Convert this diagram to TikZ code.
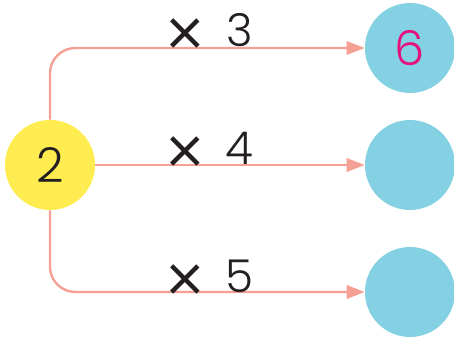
\documentclass[tikz,border=0pt]{standalone}
\usepackage{fontspec}
\setmainfont{Poppins}[UprightFont=* Light]
\usepackage{graphicx}
\usetikzlibrary{arrows.meta}
\definecolor{sunyellow}{HTML}{FFEC50}
\definecolor{skyblue}{HTML}{84D1E3}
\definecolor{salmon}{HTML}{F5A094}
\definecolor{hotpink}{HTML}{E5127E}
\definecolor{inkgray}{HTML}{231F20}
\newcommand{\bigtimes}{\raisebox{-9.5pt}{\scalebox{1.55}{×}}}

\begin{document}
\begin{tikzpicture}[
    x=0.75pt, y=-0.75pt,
    ball/.style={circle, inner sep=0pt, minimum size=67.5pt, font=\fontsize{36}{36}\selectfont, text=inkgray},
    src/.style={ball, fill=sunyellow},
    res/.style={ball, fill=skyblue},
    lbl/.style={anchor=base, inner sep=0pt, font=\fontsize{34}{34}\selectfont, text=inkgray},
    arr/.style={-{Triangle[length=13.5pt,width=10pt]}, draw=salmon, line width=1.8pt, rounded corners=19pt}
]
    \useasboundingbox (0,0) rectangle (454,338);

    % Start number
    \node[src] (S) at (50,165) {2};

    % Results
    \node[res] (R1) at (410,48) {\textcolor{hotpink}{6}};
    \node[res] (R2) at (410,165) {};
    \node[res] (R3) at (410,292) {};

    % Arrows
    \draw[arr] (S.north) |- (R1.west);
    \draw[arr] (S.east) -- (R2.west);
    \draw[arr] (S.south) |- (R3.west);

    % Multipliers
    \node[lbl] (M1) at (209,47) {\bigtimes\hspace{15pt}3};
    \node[lbl] (M2) at (209,165) {\bigtimes\hspace{15pt}4};
    \node[lbl] (M3) at (209,293) {\bigtimes\hspace{15pt}5};
\end{tikzpicture}
\end{document}
